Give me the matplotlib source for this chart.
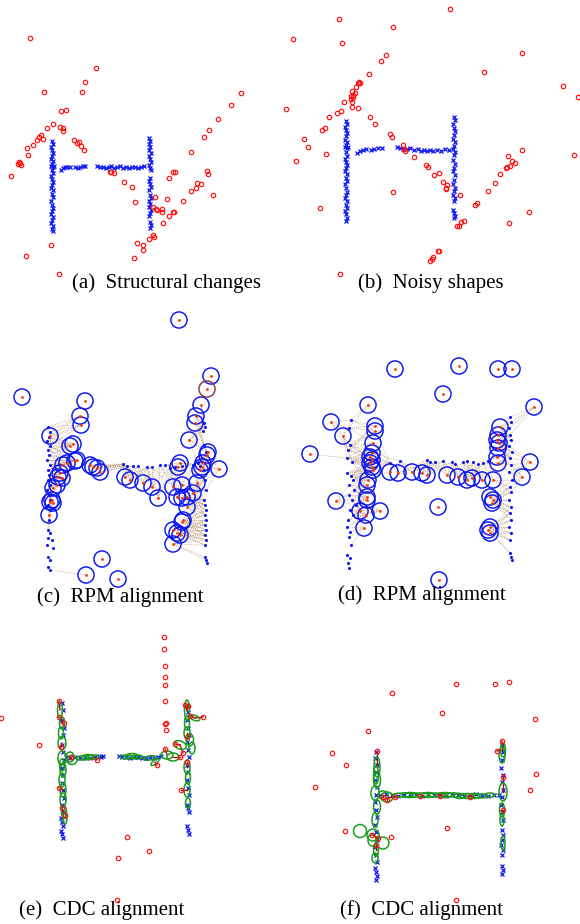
import numpy as np
import matplotlib
matplotlib.use("Agg")
import matplotlib.pyplot as plt
from matplotlib.patches import Ellipse

W, H = 580, 924

# ---------------- data (image pixel coordinates) ----------------
captions = ["(a)  Structural changes", "(b)  Noisy shapes",
            "(c)  RPM alignment", "(d)  RPM alignment",
            "(e)  CDC alignment", "(f)  CDC alignment"]
caption_pos = [(166, 283), (431, 283), (120, 597), (422, 595), (102, 910), (421, 910)]

# panel (a)
a_red = [(30,38),(96,68),(85,82),(44,92),(82,92),(241,93),(286,109),(231,105),(61,111),(66,110),
         (218,119),(53,124),(60,127),(63,128),(63,131),(47,128),(209,130),(41,135),(39,137),(37,140),
         (43,139),(33,145),(27,148),(204,137),(74,140),(77,143),(79,142),(81,146),(84,150),(191,152),
         (28,155),(19,162),(20,163),(18,164),(21,165),(11,176),(173,172),(175,172),(169,178),(110,172),
         (114,173),(111,172),(207,171),(208,174),(124,182),(132,187),(197,183),(201,184),(196,188),(191,191),
         (213,195),(183,201),(167,199),(155,197),(135,202),(153,207),(156,209),(157,210),(162,209),(162,212),
         (174,212),(173,212),(169,216),(163,223),(153,235),(154,237),(149,239),(137,243),(143,245),(143,250),
         (51,245),(26,256),(134,258),(59,274)]
a_blue = [(52,141),(53,144),(51,147),(52,150),(53,153),(52,156),(51,159),(53,161),(52,164),(51,166),
          (53,167),(54,166),(52,170),(53,173),(51,176),(52,179),(53,182),(52,185),(51,188),(53,190),
          (52,194),(53,197),(51,201),(52,205),(53,208),(52,211),(51,214),(53,217),(52,220),(51,223),
          (53,226),(52,229),(53,231),
          (61,170),(63,168),(65,167),(67,167),(70,167),(75,167),(78,168),(80,167),(83,166),(85,166),
          (97,166),(100,167),(103,167),(106,168),(109,167),(111,166),(114,168),(117,167),(120,166),(123,168),
          (126,167),(129,168),(132,167),(135,167),(138,168),(141,167),(144,166),
          (149,138),(150,141),(149,144),(150,147),(149,150),(151,153),(149,156),(150,159),(151,162),(149,165),
          (150,168),(151,170),(150,178),(149,181),(150,184),(151,187),(149,190),(150,195),(151,198),(149,201),
          (150,204),(149,207),(151,210),(150,213),(149,216),(150,222),(151,225),(150,228)]

# panel (b)
b_red = [(450,9),(339,19),(293,39),(393,27),(342,43),(522,53),(386,55),(381,61),(484,72),(369,74),
         (359,82),(360,83),(358,83),(356,87),(352,91),(355,93),(353,95),(351,96),(353,97),(351,99),
         (563,86),(578,97),(344,102),(352,102),(352,107),(358,108),(341,111),(337,113),(329,117),(370,117),
         (375,124),(325,128),(322,130),(390,134),(392,137),(304,139),(308,147),(403,145),(404,149),(405,151),
         (522,150),(574,155),(326,154),(414,157),(508,156),(296,161),(512,161),(515,163),(510,166),(507,167),
         (506,168),(426,165),(428,167),(439,173),(434,175),(500,174),(443,182),(495,183),(447,185),(446,188),
         (446,189),(393,192),(488,191),(460,195),(477,203),(475,205),(320,208),(529,212),(509,223),(464,221),
         (461,222),(459,226),(457,226),(439,251),(438,251),(433,257),(432,259),(430,261),(340,274)]
b_blue = [(346,121),(347,124),(345,127),(346,130),(347,133),(346,136),(345,140),(347,142),(346,145),(345,147),
          (347,148),(348,147),(346,152),(347,156),(345,159),(346,162),(347,165),(346,168),(345,171),(347,174),
          (346,178),(347,181),(345,184),(346,188),(347,192),(346,195),(345,198),(347,201),(346,205),(347,208),
          (345,211),(346,214),(347,218),(346,221),
          (357,153),(360,151),(363,150),(366,149),(371,150),(374,149),(378,148),(382,148),
          (397,147),(400,148),(403,149),(407,149),(410,148),(414,150),(418,149),(421,151),(424,150),(427,151),
          (430,150),(433,151),(437,150),(441,151),(445,149),(449,150),
          (454,117),(455,120),(453,124),(454,128),(455,131),(454,135),(453,139),(455,142),(454,146),(453,149),
          (455,152),(454,155),(453,160),(455,164),(454,168),(453,171),(455,175),(454,180),(453,184),(455,188),
          (454,191),(453,195),(455,198),(454,201),(453,210),(454,213),(455,216),(454,218)]

# panel (c)
c_circ = [(179,320),(211,376),(22,397),(85,401),(201,405),(80,416),(81,425),(196,416),(195,423),
          (50,436),(189,440),(73,444),(70,446),(208,452),(207,455),(77,460),(75,461),(67,463),(63,465),
          (180,463),(178,467),(203,463),(202,467),(200,470),(90,465),(93,467),(97,468),(100,472),(219,469),
          (60,473),(58,477),(62,478),(125,477),(130,480),(143,483),(152,487),(173,487),(182,485),(197,483),
          (57,485),(53,488),(177,497),(182,498),(187,497),(193,493),(158,498),(52,500),(50,502),(53,503),
          (187,507),(183,520),(182,522),(173,530),(177,533),(180,535),(173,544),(49,515),(102,559),(86,575),
          (118,579)]
c_circ_brown = [(207,389)]
c_target = [(48,427),(50,432),(49,437),(47,441),(50,446),(48,450),(49,455),(47,460),(50,465),(48,470),
            (49,475),(48,480),(50,485),(47,490),(49,495),(50,500),(48,505),(50,510),(49,520),(48,530),
            (50,533),(48,538),(52,540),(47,545),(53,548),(48,557),(50,560),(48,567),(50,570),
            (123,464),(127,466),(133,466),(138,466),(147,467),(152,467),(160,465),(165,465),(170,468),
            (175,467),(182,466),(193,465),(198,463),(200,466),
            (204,423),(205,427),(203,431),(204,445),(206,452),(204,470),(205,480),(206,490),(204,500),
            (205,505),(206,510),(205,515),(206,520),(205,525),(206,530),(205,535),(206,540),(205,545),
            (205,557),(206,560),(207,563)]

# panel (d)
d_circ = [(395,369),(459,366),(498,369),(512,369),(443,394),(368,405),(534,407),(331,422),(375,426),
          (375,431),(343,436),(500,427),(498,435),(497,440),(499,443),(498,448),(310,454),(373,443),
          (372,453),(370,457),(372,460),(370,463),(372,467),(373,470),(497,457),(498,463),(530,462),
          (522,477),(390,472),(398,473),(412,472),(422,473),(427,475),(447,475),(458,477),(467,480),
          (472,478),(482,480),(493,480),(368,480),(367,485),(490,497),(493,500),(492,503),(336,501),
          (367,497),(367,500),(438,507),(360,511),(366,515),(380,511),(490,527),(488,530),(490,533),
          (364,528),(439,580)]
d_target = [(351,420),(349,428),(350,445),(348,450),(347,458),(352,462),(347,473),(351,476),(353,480),
            (349,485),(354,490),(349,495),(352,500),(356,505),(350,510),(353,515),(348,520),(347,527),
            (350,532),(349,537),(351,545),(347,555),(350,558),(348,563),(349,568),
            (390,463),(400,461),(427,460),(430,462),(435,462),(443,461),(452,462),(455,464),(463,462),
            (467,461),(473,462),(478,464),(483,463),(488,461),
            (510,417),(511,422),(509,428),(510,435),(511,440),(509,446),(512,452),(510,458),(511,465),
            (509,472),(512,480),(510,487),(511,492),(509,500),(511,507),(510,513),(511,520),(509,527),
            (511,533),(510,540),(510,553),(511,557),(512,560)]

# panel (e)
e_red_out = [(164,637),(164,649),(165,666),(165,677),(165,685),(165,701),(166,723),(165,724),(166,730),
             (1,718),(39,745),(127,837),(149,851),(118,858),(117,900)]
e_red_h = [(59,701),(59,717),(64,723),(61,747),(71,757),(97,760),(59,788),(65,815),(62,808),(185,705),
           (188,706),(190,716),(203,717),(175,744),(187,737),(183,753),(180,757),(165,749),(157,765),
           (187,762),(181,790)]
e_blue = [(62,703),(63,710),(62,720),(64,728),(63,735),(62,745),(63,752),(64,760),(62,768),(63,775),
          (62,783),(63,790),(64,798),(62,805),(63,812),(61,818),(62,822),(63,826),(61,831),(62,834),(63,838),
          (66,757),(70,758),(75,757),(80,758),(85,757),(90,758),(95,757),(99,756),(101,757),(103,756),
          (119,756),(122,757),(126,757),(130,758),(134,757),(138,757),(142,758),(146,758),(150,757),
          (154,758),(158,757),(161,756),
          (187,706),(188,712),(187,720),(188,728),(189,735),(187,742),(188,750),(189,757),(187,765),
          (188,772),(187,780),(188,788),(189,795),(187,805),(188,808),(189,812),(187,826),(188,830),(189,834)]
# ellipses: cx, cy, width, height, angle
e_ell = [(60,710,5,16,0),(62,723,5,12,0),(62,743,8,13,0),(62,758,8,14,0),(63,770,6,14,0),(62,780,6,14,0),
         (63,790,6,14,0),(63,800,6,14,0),(64,812,5,12,0),(65,818,4,12,0),(61,733,5,12,0),(62,765,5,12,0),
         (72,760,10,9,0),(70,757,8,10,0),(83,758,14,4,0),(93,757,14,4,0),(88,757,12,5,0),
         (127,757,14,4,0),(137,757,12,4,0),(132,756,12,5,0),(150,758,12,4,-10),(155,762,10,4,-40),
         (167,755,12,8,0),(173,757,12,8,0),(180,745,13,8,20),(187,733,6,12,0),(187,710,5,20,0),
         (187,723,5,14,0),(192,748,6,12,0),(187,767,6,14,0),(188,778,5,12,0),(187,790,6,14,0),
         (188,803,5,10,0),(195,718,10,5,20),(190,740,7,12,0)]

# panel (f)
f_red_out = [(456,684),(495,684),(509,682),(392,693),(442,713),(535,719),(368,731),(332,753),(346,765),
             (536,774),(315,787),(530,790),(447,828),(345,831),(391,837),(456,900)]
f_red_h = [(377,751),(502,741),(497,751),(387,800),(378,838),(372,835),(376,845),(503,777),(503,810),
           (420,796),(440,796),(470,797),(395,797),(383,797)]
f_blue = [(376,752),(375,758),(377,765),(376,772),(375,780),(377,787),(376,795),(375,802),(376,810),
          (377,817),(375,825),(376,832),(377,840),(375,847),(376,855),(377,862),(375,868),(376,872),
          (377,876),(376,880),
          (380,795),(386,794),(392,795),(398,796),(404,795),(410,794),(416,795),(422,796),(428,794),
          (434,795),(440,795),(446,796),(452,794),(458,795),(464,796),(470,795),(476,794),(482,795),
          (488,796),(494,795),(499,795),
          (502,745),(503,752),(502,760),(501,768),(503,775),(502,782),(503,790),(502,797),(501,805),
          (502,812),(503,820),(502,830),(503,835),(502,840),(501,845),(503,850),(502,855),(502,866),
          (503,870),(502,874)]
f_ell = [(377,767,6,20,0),(376,775,5,18,0),(377,780,7,16,0),(375,793,8,14,0),(387,797,12,10,0),
         (383,795,10,8,0),(377,807,7,14,0),(375,820,6,14,0),(360,831,13,13,0),(373,835,12,12,0),
         (383,843,12,12,0),(372,840,8,12,0),(375,858,6,10,0),(376,850,5,12,0),
         (403,795,20,4,0),(410,795,16,5,0),(420,795,18,4,0),(428,795,14,5,0),(437,795,18,4,0),
         (445,795,14,5,0),(453,795,18,4,0),(460,796,12,5,0),(467,796,14,5,0),(474,796,12,5,0),
         (480,796,14,4,0),(490,795,10,4,0),(502,755,6,16,0),(503,750,5,14,0),(503,792,8,18,0),
         (502,810,5,14,0),(502,820,4,12,0),(503,843,4,14,0)]

# ---------------- figure ----------------
fig = plt.figure(figsize=(W/100, H/100), dpi=100)
rects = [(0,0,290,300),(290,0,290,300),(0,300,290,310),(290,300,290,310),(0,610,290,314),(290,610,290,314)]
axes = []
for (x0, y0, w, h) in rects:
    ax = fig.add_axes([x0/W, 1-(y0+h)/H, w/W, h/H])
    ax.set_xlim(x0, x0+w)
    ax.set_ylim(y0+h, y0)
    ax.axis('off')
    axes.append(ax)

RED = '#ff1010'
BLUE = '#0a14f0'

def xy(lst):
    arr = np.array(lst, dtype=float)
    return arr[:, 0], arr[:, 1]

def red_circles(ax, pts):
    x, y = xy(pts)
    ax.plot(x, y, 'o', ms=3.2, mfc='none', mec=RED, mew=0.85, ls='none', clip_on=False, zorder=5)

def blue_x(ax, pts):
    x, y = xy(pts)
    ax.plot(x, y, 'x', ms=3.2, mec=BLUE, mew=0.9, ls='none', clip_on=False)

# (a), (b)
for ax, r, b in [(axes[0], a_red, a_blue), (axes[1], b_red, b_blue)]:
    blue_x(ax, b)
    red_circles(ax, r)

# (c), (d) RPM
def rpm(ax, circ, target, brown=()):
    cx, cy = xy(circ)
    tx, ty = xy(target)
    # correspondence lines: each center to its nearest targets
    for px, py in zip(cx, cy):
        d = np.hypot(tx-px, ty-py)
        idx = np.argsort(d)[:6]
        for i in idx:
            if d[i] < 38:
                ax.plot([px, tx[i]], [py, ty[i]], ls=(0, (1, 1.4)), color='#b08a60', lw=0.55, alpha=0.85)
    ax.plot(tx, ty, 'o', ms=2.2, color=BLUE, mec='none', ls='none')
    ax.scatter(cx, cy, s=135, facecolors='none', edgecolors=BLUE, linewidths=1.05, zorder=3)
    if len(brown):
        bx, by = xy(brown)
        ax.scatter(bx, by, s=135, facecolors='none', edgecolors='#8b3a3a', linewidths=1.05, zorder=3)
        ax.plot(bx, by, 'o', ms=2.0, color='#ff3300', mec='none', ls='none', zorder=4)
    ax.plot(cx, cy, 'o', ms=2.0, color='#ff3300', mec='none', ls='none', zorder=4)

rpm(axes[2], c_circ, c_target, c_circ_brown)
rpm(axes[3], d_circ, d_target)

# (e), (f) CDC
def cdc(ax, red_out, red_h, blue, ells):
    blue_x(ax, blue)
    ex = np.array([e[0] for e in ells], float)
    ey = np.array([e[1] for e in ells], float)
    for (x, y) in red_h:
        d = np.hypot(ex-x, ey-y)
        i = np.argmin(d)
        ax.plot([x, ex[i]], [y, ey[i]], color='#a01010', lw=1.0, zorder=2)
    for (cx, cy, w, h, ang) in ells:
        ax.add_patch(Ellipse((cx, cy), w, h, angle=ang, fill=False, ec='#1c9c1c', lw=1.1, zorder=3))
    red_circles(ax, red_out)
    red_circles(ax, red_h)

cdc(axes[4], e_red_out, e_red_h, e_blue, e_ell)
cdc(axes[5], f_red_out, f_red_h, f_blue, f_ell)

# captions
for ax, txt, (x, y) in zip(axes, captions, caption_pos):
    ax.text(x, y, txt, ha='center', va='center', fontsize=15,
            family=['Liberation Serif', 'DejaVu Serif'], clip_on=False)

fig.savefig('out.png', dpi=100)
